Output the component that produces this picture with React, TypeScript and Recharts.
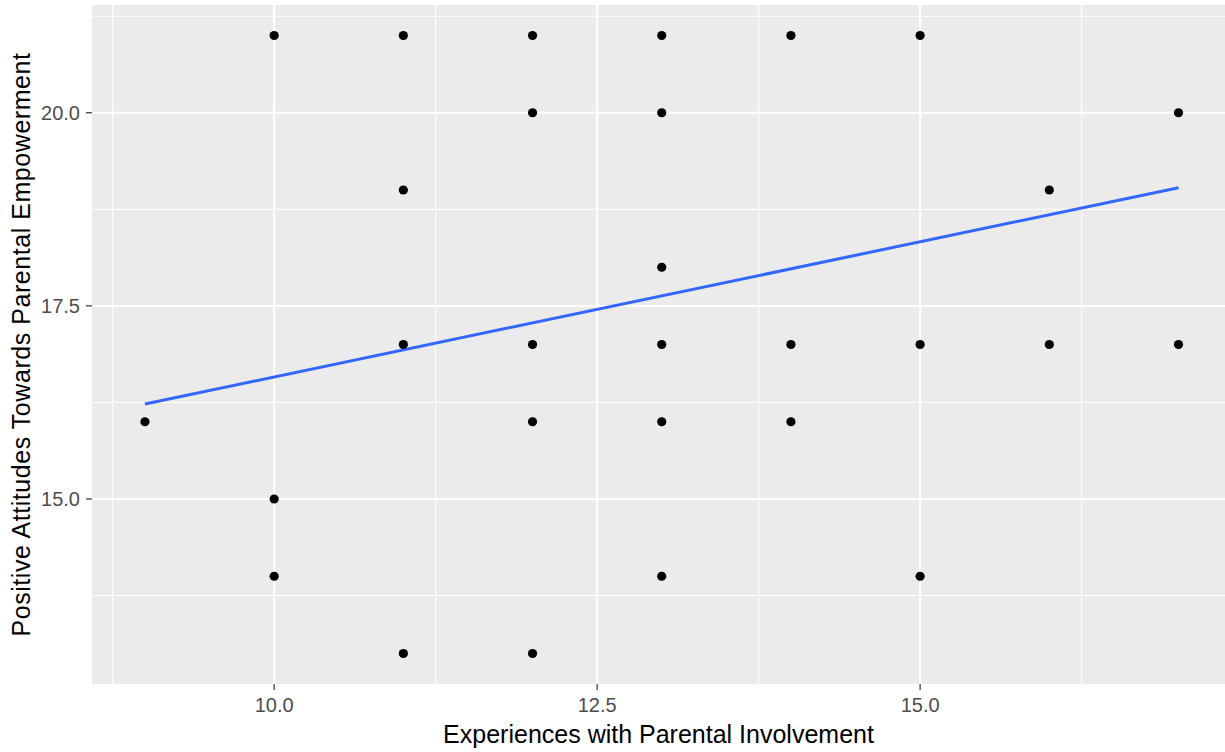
import React from "react";
import {
  ComposedChart,
  Scatter,
  Line,
  XAxis,
  YAxis,
  CartesianGrid,
  ReferenceLine,
} from "recharts";

// Observed points: x = Experiences with Parental Involvement, y = Positive Attitudes
const pointsX = [9, 10, 10, 10, 11, 11, 11, 11, 12, 12, 12, 12, 12, 13, 13, 13, 13, 13, 13, 14, 14, 14, 15, 15, 15, 16, 16, 17, 17];
const pointsY = [16, 21, 15, 14, 21, 19, 17, 13, 21, 20, 17, 16, 13, 21, 20, 18, 17, 16, 14, 21, 17, 16, 21, 17, 14, 19, 17, 20, 17];

// Fitted linear trend (endpoints)
const fitX = [9, 17];
const fitY = [16.23, 19.03];

const xTicks = [10, 12.5, 15];
const yTicks = [15, 17.5, 20];
const xMinor = [8.75, 11.25, 13.75, 16.25];
const yMinor = [13.75, 16.25, 18.75, 21.25];
const xDomain = [8.59, 17.36];
const yDomain = [12.605, 21.395];

const points = pointsX.map((x, i) => ({ x, y: pointsY[i] }));
const fit = fitX.map((x, i) => ({ x, y: fitY[i] }));

const FONT = '"Liberation Sans", Arial, Helvetica, sans-serif';

const Dot = (props: any) => {
  const { cx, cy } = props;
  return <circle cx={cx} cy={cy} r={4.6} fill="#000000" />;
};

export default function App() {
  return (
    <div style={{ position: "absolute", left: 0, top: 0, width: 1225, height: 752, background: "#fff" }}>
      <ComposedChart
        width={1225}
        height={752}
        margin={{ top: 5, right: 0, bottom: 0, left: 0 }}
        style={{ fontFamily: FONT }}
      >
        <CartesianGrid
          fill="#EBEBEB"
          stroke="#FFFFFF"
          strokeWidth={2}
          horizontalValues={yTicks}
          verticalValues={xTicks}
        />
        {xMinor.map((v) => (
          <ReferenceLine key={"xm" + v} x={v} stroke="#FFFFFF" strokeWidth={1} />
        ))}
        {yMinor.map((v) => (
          <ReferenceLine key={"ym" + v} y={v} stroke="#FFFFFF" strokeWidth={1} />
        ))}
        <XAxis
          type="number"
          dataKey="x"
          domain={xDomain}
          ticks={xTicks}
          allowDataOverflow
          height={68}
          axisLine={false}
          tickLine={{ stroke: "#333333", strokeWidth: 1.2 }}
          tickSize={6}
          tickMargin={8}
          tick={{ fill: "#4D4D4D", fontSize: 20, fontFamily: FONT }}
          tickFormatter={(v: number) => v.toFixed(1)}
          label={{
            value: "Experiences with Parental Involvement",
            position: "insideBottom",
            offset: 9,
            fill: "#000000",
            fontSize: 25,
            fontFamily: FONT,
          }}
        />
        <YAxis
          type="number"
          dataKey="y"
          domain={yDomain}
          ticks={yTicks}
          allowDataOverflow
          width={92}
          axisLine={false}
          tickLine={{ stroke: "#333333", strokeWidth: 1.2 }}
          tickSize={6}
          tickMargin={6}
          tick={{ fill: "#4D4D4D", fontSize: 20, fontFamily: FONT }}
          tickFormatter={(v: number) => v.toFixed(1)}
          label={{
            value: "Positive Attitudes Towards Parental Empowerment",
            angle: -90,
            position: "insideLeft",
            offset: 21,
            fill: "#000000",
            fontSize: 25,
            fontFamily: FONT,
            style: { textAnchor: "middle", letterSpacing: "0.55px" },
          }}
        />
        <Scatter data={points} dataKey="y" shape={<Dot />} isAnimationActive={false} />
        <Line
          data={fit}
          dataKey="y"
          type="linear"
          stroke="#3366FF"
          strokeWidth={3}
          dot={false}
          activeDot={false}
          isAnimationActive={false}
        />
      </ComposedChart>
    </div>
  );
}
